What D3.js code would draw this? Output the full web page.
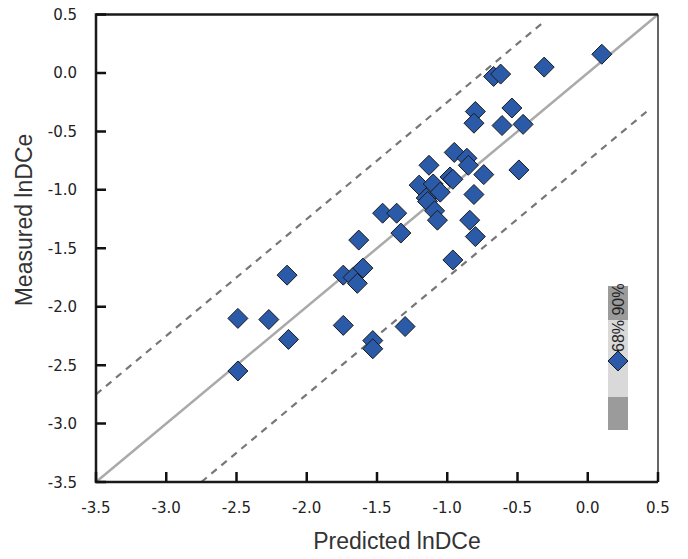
<!DOCTYPE html>
<html>
<head>
<meta charset="utf-8">
<script src="https://cdn.jsdelivr.net/npm/d3@7"></script>
<style>
  body { margin: 0; background: #fff; }
  text { font-family: "Liberation Sans", Arial, sans-serif; }
</style>
</head>
<body>
<div id="my-svg-chart"></div>
<script>
// predicted vs measured lnDCe
const predicted = [0.10, -0.31, -0.67, -0.62, -0.54, -0.80, -0.81, -0.61, -0.46, -0.95,
  -1.13, -0.86, -0.85, -0.74, -0.49, -0.98, -0.96, -1.20, -1.10, -1.05,
  -1.15, -1.14, -1.09, -0.81, -1.07, -0.84, -0.80, -1.46, -1.36, -1.33,
  -1.63, -0.96, -2.14, -1.74, -1.67, -1.60, -1.64, -2.49, -2.27, -2.13,
  -1.74, -1.30, -1.53, -1.53, -2.49];
const measured = [0.16, 0.05, -0.03, -0.01, -0.30, -0.33, -0.43, -0.45, -0.44, -0.68,
  -0.79, -0.73, -0.79, -0.87, -0.83, -0.89, -0.91, -0.96, -0.95, -1.02,
  -1.07, -1.10, -1.18, -1.04, -1.26, -1.26, -1.40, -1.20, -1.20, -1.37,
  -1.43, -1.60, -1.73, -1.73, -1.75, -1.67, -1.80, -2.10, -2.11, -2.28,
  -2.16, -2.17, -2.29, -2.36, -2.55];

const ticks = [-3.5, -3.0, -2.5, -2.0, -1.5, -1.0, -0.5, 0.0, 0.5];

// dashed band lines (offset from 1:1, x start, x end)
const bandOffset = 0.75;
const upperBandX = [-3.5, -0.33];
const lowerBandX = [-2.75, 0.45];

const data = predicted.map((p, i) => ({ x: p, y: measured[i] }));

const width = 688, height = 559;
const plotL = 96, plotR = 658, plotT = 14.5, plotB = 482;

const svg = d3.select('#my-svg-chart')
  .append('svg')
  .attr('width', width)
  .attr('height', height);

const x = d3.scaleLinear().domain([-3.5, 0.5]).range([plotL, plotR]);
const y = d3.scaleLinear().domain([-3.5, 0.5]).range([plotB, plotT]);

// 1:1 line
svg.append('line')
  .attr('x1', x(-3.5)).attr('y1', y(-3.5))
  .attr('x2', x(0.5)).attr('y2', y(0.5))
  .attr('stroke', '#aaa')
  .attr('stroke-width', 2.5);

// dashed band
const bands = [
  { x0: upperBandX[0], x1: upperBandX[1], off: bandOffset },
  { x0: lowerBandX[0], x1: lowerBandX[1], off: -bandOffset }
];
svg.selectAll('line.band')
  .data(bands)
  .join('line')
  .attr('class', 'band')
  .attr('x1', d => x(d.x0)).attr('y1', d => y(d.x0 + d.off))
  .attr('x2', d => x(d.x1)).attr('y2', d => y(d.x1 + d.off))
  .attr('stroke', '#777')
  .attr('stroke-width', 2.2)
  .attr('stroke-dasharray', '7,6');

// diamonds
const r = 10;
const diamond = `M0,${-r}L${r},0L0,${r}L${-r},0Z`;

svg.selectAll('path.pt')
  .data(data)
  .join('path')
  .attr('class', 'pt')
  .attr('d', diamond)
  .attr('transform', d => `translate(${x(d.x)},${y(d.y)})`)
  .attr('fill', '#2b5ba8')
  .attr('stroke', '#1a1a1a')
  .attr('stroke-width', 1);

// frame
svg.append('line')
  .attr('x1', plotR).attr('y1', plotT).attr('x2', plotR).attr('y2', plotB)
  .attr('stroke', '#333').attr('stroke-width', 1.5);
svg.append('path')
  .attr('d', `M${plotR},${plotT}H${plotL}V${plotB}H${plotR}`)
  .attr('fill', 'none')
  .attr('stroke', '#1a1a1a')
  .attr('stroke-width', 2.5);

// ticks pointing inward, one path each axis
const tickLen = 10;
svg.append('path')
  .attr('d', ticks.map(t => `M${x(t)},${plotB}V${plotB - tickLen}`).join(''))
  .attr('stroke', '#111')
  .attr('stroke-width', 2.5)
  .attr('fill', 'none');
svg.append('path')
  .attr('d', ticks.map(t => `M${plotL},${y(t)}H${plotL + tickLen}`).join(''))
  .attr('stroke', '#111')
  .attr('stroke-width', 2.5)
  .attr('fill', 'none');

// tick labels
const fmt = d => d3.format('.1f')(d).replace('−', '-');
svg.selectAll('text.xlab')
  .data(ticks)
  .join('text')
  .attr('class', 'xlab')
  .attr('x', d => x(d))
  .attr('y', 513)
  .attr('text-anchor', 'middle')
  .attr('fill', '#222')
  .style('font-family', '"DejaVu Sans", sans-serif')
  .style('font-size', '15px')
  .text(fmt);
svg.selectAll('text.ylab')
  .data(ticks)
  .join('text')
  .attr('class', 'ylab')
  .attr('x', 77)
  .attr('y', d => y(d) + 5.5)
  .attr('text-anchor', 'end')
  .attr('fill', '#222')
  .style('font-family', '"DejaVu Sans", sans-serif')
  .style('font-size', '15px')
  .text(fmt);

// axis titles
svg.append('text')
  .attr('x', 397)
  .attr('y', 549)
  .attr('text-anchor', 'middle')
  .attr('fill', '#333')
  .style('font-size', '23px')
  .text('Predicted lnDCe');

svg.append('text')
  .attr('transform', 'translate(32,220) rotate(-90)')
  .attr('text-anchor', 'middle')
  .attr('fill', '#333')
  .style('font-size', '23px')
  .text('Measured lnDCe');

// legend: error bar key
const lg = svg.append('g');
lg.append('rect').attr('x', 608).attr('y', 286).attr('width', 20).attr('height', 144).attr('fill', '#9b9b9b');
lg.append('rect').attr('x', 608).attr('y', 320).attr('width', 20).attr('height', 77).attr('fill', '#d9d9d9');
lg.append('path')
  .attr('d', diamond)
  .attr('transform', 'translate(618,361)')
  .attr('fill', '#2b5ba8')
  .attr('stroke', '#1a1a1a')
  .attr('stroke-width', 1);
lg.append('text')
  .attr('transform', 'translate(623.5,352) rotate(-90)')
  .attr('fill', '#222')
  .style('font-size', '16px')
  .text('68% 90%');
</script>
</body>
</html>
